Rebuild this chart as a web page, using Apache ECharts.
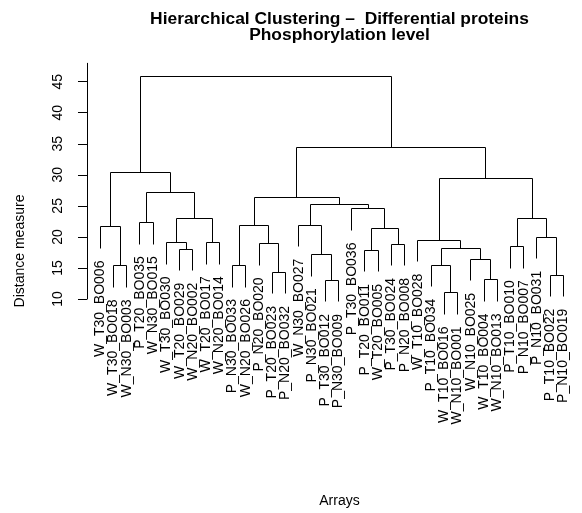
<!DOCTYPE html>
<html><head><meta charset="utf-8">
<script src="https://cdn.jsdelivr.net/npm/echarts@6/dist/echarts.min.js"></script>
<style>html,body{margin:0;padding:0;background:#fff}#c{width:582px;height:513px}</style>
</head><body><div id="c"></div>
<script>
// ---- data ----
const leafLabels = [
  'W_T30_BO006','W_T30_BO018','W_N30_BO003','P_T20_BO035','W_N30_BO015',
  'W_T30_BO030','W_T20_BO029','W_N20_BO002','W_T20_BO017','W_N20_BO014',
  'P_N30_BO033','W_N20_BO026','P_N20_BO020','P_T20_BO023','P_N20_BO032',
  'W_N30_BO027','P_N30_BO021','P_T30_BO012','P_N30_BO009','P_T30_BO036',
  'P_T20_BO011','W_T20_BO005','P_T30_BO024','P_N20_BO008','W_T10_BO028',
  'P_T10_BO034','W_T10_BO016','W_N10_BO001','W_N10_BO025','W_T10_BO004',
  'W_N10_BO013','P_T10_BO010','P_N10_BO007','P_N10_BO031','P_T10_BO022',
  'P_N10_BO019'
];
// merge pairs: negative = leaf (position in leafLabels, 1-based), positive = earlier merge (1-based)
const mergePairs = [
  [-27,-28],[-18,-19],[-30,-31],[-35,-36],[-14,-15],
  [-2,-3],[-11,-12],[-26,1],[-29,3],[-17,2],
  [-21,-22],[-7,-8],[8,9],[-32,-33],[-23,-24],
  [-13,5],[-6,12],[-9,-10],[-25,13],[-34,4],
  [11,15],[-1,6],[7,16],[-16,10],[-4,-5],
  [17,18],[14,20],[-20,21],[24,28],[23,29],
  [25,26],[19,27],[22,31],[30,32],[33,34]
];
const mergeHeights = [
  11.0,13.0,13.1,13.85,14.3,
  15.35,15.4,15.45,16.4,17.15,
  17.85,18.05,18.1,18.45,18.8,
  18.9,19.05,19.1,19.5,19.95,
  21.3,21.6,21.8,21.9,22.3,
  22.95,23.0,24.5,25.2,26.4,
  27.2,29.4,30.4,34.4,45.8
];
const yTicks = [10,15,20,25,30,35,40,45];
const mainTitle = 'Hierarchical Clustering \u2013  Differential proteins\nPhosphorylation level';
const xTitle = 'Arrays';
const yTitle = 'Distance measure';

// ---- layout of the tree (R plot.hclust style, hang = 0.1) ----
const FONT = '"Liberation Sans", Arial, Helvetica, sans-serif';
const hang = 0.1 * (Math.max(...mergeHeights) - Math.min(...mergeHeights));
const mergeX = [];
const leafBottom = new Array(leafLabels.length);
const segments = [];
mergePairs.forEach((p, k) => {
  const h = mergeHeights[k];
  const ends = p.map(c => {
    if (c < 0) { leafBottom[-c - 1] = h - hang; return [-c, h - hang]; }
    return [mergeX[c - 1], mergeHeights[c - 1]];
  });
  mergeX[k] = (ends[0][0] + ends[1][0]) / 2;
  segments.push([ends[0][0], h, ends[1][0], h]);
  segments.push([ends[0][0], h, ends[0][0], ends[0][1]]);
  segments.push([ends[1][0], h, ends[1][0], ends[1][1]]);
});
const leafData = leafLabels.map((l, i) => [i + 1, leafBottom[i]]);

const snap = v => Math.round(v - 0.5) + 0.5;

const chart = echarts.init(document.getElementById('c'), null, {renderer: 'canvas'});
chart.setOption({
  animation: false,
  backgroundColor: '#fff',
  title: {
    text: mainTitle, left: 339.5, top: 11, textAlign: 'center', padding: 0,
    textStyle: {fontSize: 17.4, fontWeight: 'bold', fontFamily: FONT, color: '#000', lineHeight: 16}
  },
  grid: {left: 81.7, top: 63.3, width: 516.7, height: 235.7, containLabel: false},
  xAxis: {type: 'value', min: -0.4, max: 37.4, show: false},
  yAxis: {
    type: 'value', min: 10, max: 47.96,
    axisLine: {show: true, lineStyle: {color: '#000', width: 1}},
    axisTick: {show: true, length: 9, lineStyle: {color: '#000', width: 1}, customValues: yTicks},
    axisLabel: {customValues: yTicks, rotate: 90, margin: 17, color: '#000', fontSize: 14, fontFamily: FONT},
    splitLine: {show: false}
  },
  graphic: [
    {type: 'text', x: 20, y: 251, rotation: Math.PI / 2,
     style: {text: yTitle, align: 'center', verticalAlign: 'middle', font: '14px ' + FONT, fill: '#000'}},
    {type: 'text', x: 339.5, y: 500.7,
     style: {text: xTitle, align: 'center', verticalAlign: 'middle', font: '14px ' + FONT, fill: '#000'}}
  ],
  series: [
    {
      type: 'custom', silent: true, clip: false,
      data: segments,
      renderItem: (params, api) => {
        const a = api.coord([api.value(0), api.value(1)]);
        const b = api.coord([api.value(2), api.value(3)]);
        return {type: 'line',
          shape: {x1: snap(a[0]), y1: snap(a[1]), x2: snap(b[0]), y2: snap(b[1])},
          style: {stroke: '#000', lineWidth: 1}};
      }
    },
    {
      type: 'custom', silent: true, clip: false,
      data: leafData,
      renderItem: (params, api) => {
        const p = api.coord([api.value(0), api.value(1)]);
        return {type: 'text', x: p[0], y: p[1] + 12, rotation: Math.PI / 2,
          style: {text: leafLabels[params.dataIndex], align: 'right', verticalAlign: 'middle',
                  font: '14px ' + FONT, fill: '#000'}};
      }
    }
  ]
});
</script></body></html>
